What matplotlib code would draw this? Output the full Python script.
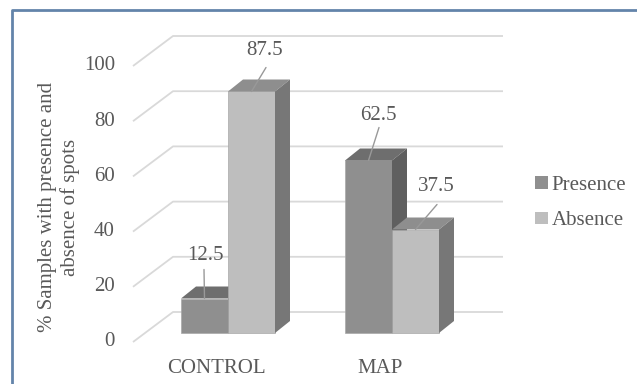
import matplotlib
matplotlib.use("Agg")
import matplotlib.pyplot as plt
import matplotlib.patches as patches
from matplotlib.lines import Line2D

# --- Data ---
categories = ["CONTROL", "MAP"]
series_names = ["Presence", "Absence"]
presence = [12.5, 62.5]
absence = [87.5, 37.5]
y_ticks = [0, 20, 40, 60, 80, 100]
y_label = "% Samples with presence and\nabsence of spots"

# --- Layout (pixels of a 637x384 figure) ---
W, H, DPI = 637, 384, 100
PX_CAT = 164.0      # pixels between categories
PX_VAL = 2.76       # pixels per percent
CAT0_X = 228.0      # pixel x of first category centre
BASE_Y = 333.0      # pixel y of bar bottoms
BAR_W = 47.0
DEPTH = (15.0, 12.0)          # bar depth (right, up)
FRONT = (133.0, -9.0)         # wall front edge: x, dy
BACK = (173.0, 21.0)          # wall back edge: x, dy
RIGHT_X = 503.0

COLORS = {
    "Presence": ("#8f8f8f", "#6e6e6e", "#5f5f5f"),   # front, top, side
    "Absence": ("#bebebe", "#8e8e8e", "#777777"),
}
TXT = "#595959"
GRID = "#d9d9d9"

# label offsets (pixels) from the top-front centre of each bar: leader start, text baseline
LABEL_OFFS = {
    ("Presence", 0): ((-0.5, 29), (0.5, 38)),
    ("Absence", 0): ((14.5, 24), (13.5, 36)),
    ("Presence", 1): ((10.5, 33), (9.5, 40)),
    ("Absence", 1): ((21.5, 25), (20.5, 38)),
}

plt.rcParams["font.family"] = ["Liberation Serif", "DejaVu Serif"]

fig = plt.figure(figsize=(W / DPI, H / DPI), dpi=DPI)
ax = fig.add_axes([0, 0, 1, 1])
ax.set_xlim(-CAT0_X / PX_CAT, (W - CAT0_X) / PX_CAT)
ax.set_ylim((BASE_Y - H) / PX_VAL, BASE_Y / PX_VAL)
ax.axis("off")


def dx(p):
    return p / PX_CAT


def dy(p):
    return p / PX_VAL


def px_x(p):
    return (p - CAT0_X) / PX_CAT


# gridlines on the side and back walls
for v in y_ticks:
    xs = [px_x(FRONT[0]), px_x(BACK[0]), px_x(RIGHT_X)]
    ys = [v + dy(FRONT[1]), v + dy(BACK[1]), v + dy(BACK[1])]
    ax.plot(xs, ys, color=GRID, lw=1.3, zorder=1, solid_capstyle="butt")
    ax.text(px_x(115), v + dy(FRONT[1]), str(v), ha="right", va="center",
            fontsize=15, color=TXT)

# 3D-looking bars
bw = dx(BAR_W)
ddx, ddy = dx(DEPTH[0]), dy(DEPTH[1])
z = 2
for i, cat in enumerate(categories):
    for name, vals, x0 in (("Presence", presence, i - bw), ("Absence", absence, i)):
        v = vals[i]
        front_c, top_c, side_c = COLORS[name]
        ax.add_patch(patches.Rectangle((x0, 0), bw, v, facecolor=front_c,
                                       edgecolor="#a8a8a8", lw=0.5, zorder=z))
        ax.add_patch(patches.Polygon([(x0, v), (x0 + bw, v), (x0 + bw + ddx, v + ddy),
                                      (x0 + ddx, v + ddy)], closed=True,
                                     facecolor=top_c, edgecolor="none", zorder=z))
        ax.add_patch(patches.Polygon([(x0 + bw, 0), (x0 + bw, v), (x0 + bw + ddx, v + ddy),
                                      (x0 + bw + ddx, ddy)], closed=True,
                                     facecolor=side_c, edgecolor="none", zorder=z))
        z += 1

        # value label with leader line
        xc = x0 + bw / 2
        (lx, ly), (tx, ty) = LABEL_OFFS[(name, i)]
        ax.annotate("", xy=(xc, v), xytext=(lx, ly), textcoords="offset pixels",
                    arrowprops=dict(arrowstyle="-", color="#999999", lw=1,
                                    shrinkA=0, shrinkB=0), zorder=10)
        ax.annotate(f"{v}", xy=(xc, v), xytext=(tx, ty), textcoords="offset pixels",
                    ha="center", va="baseline", fontsize=15, color=TXT, zorder=10)

    # category label at the front floor edge
    ax.text(i + dx(-12), dy(FRONT[1]) - dy(31), cat, ha="center", va="baseline",
            fontsize=15, color=TXT)

# axis title
fig.text(59 / W, 1 - 207 / H, y_label, rotation=90, ha="center", va="center",
         multialignment="center", fontsize=15, color=TXT, linespacing=1.15)

# legend
handles = [patches.Patch(facecolor=COLORS[n][0], edgecolor="none") for n in series_names]
leg = ax.legend(handles, series_names, loc="center left",
                bbox_to_anchor=(535 / W, 1 - 203 / H), frameon=False,
                fontsize=15, handlelength=0.6, handleheight=0.55,
                handletextpad=0.2, labelspacing=0.8, borderpad=0,
                borderaxespad=0)
for t in leg.get_texts():
    t.set_color(TXT)

# chart frame (top and left edges visible)
fig.add_artist(Line2D([12 / W, 12 / W, 1], [0, 1 - 10 / H, 1 - 10 / H],
                      transform=fig.transFigure, color="#6384aa", lw=2))

fig.savefig("out.png", dpi=DPI)
